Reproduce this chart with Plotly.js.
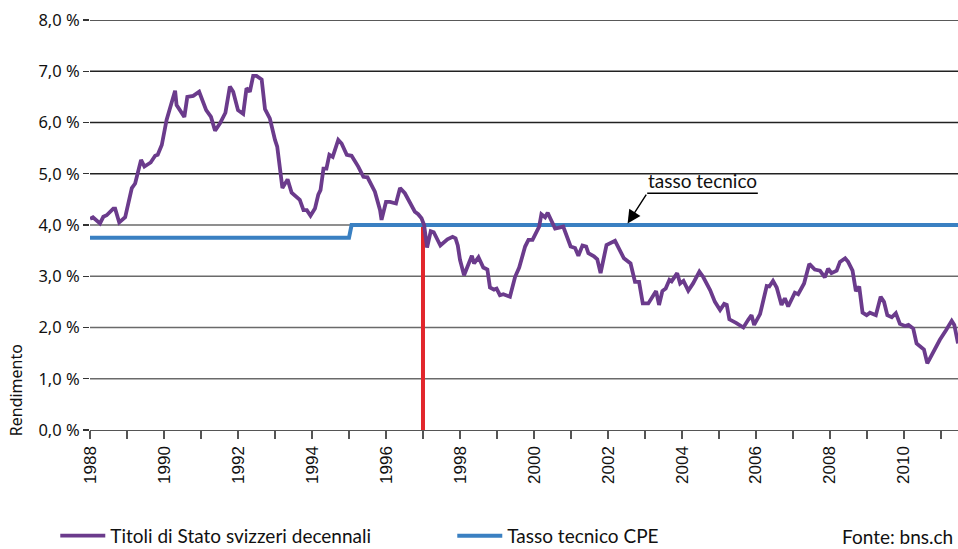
<!DOCTYPE html>
<html>
<head>
<meta charset="utf-8">
<script src="https://cdn.plot.ly/plotly-3.0.1.min.js"></script>
<style>html,body{margin:0;padding:0;background:#fff;}#chart{width:958px;height:549px;}</style>
</head>
<body>
<div id="chart"></div>
<script>
// Titoli di Stato svizzeri decennali (decimal year, yield %)
var bondDates = [1988.00,1988.08,1988.27,1988.36,1988.45,1988.63,1988.68,1988.79,1988.95,1989.13,1989.22,1989.38,1989.47,1989.64,1989.76,1989.83,1989.94,1990.07,1990.30,1990.34,1990.55,1990.63,1990.79,1990.95,1991.14,1991.27,1991.38,1991.51,1991.66,1991.78,1991.87,1992.00,1992.14,1992.23,1992.32,1992.41,1992.50,1992.64,1992.73,1992.86,1993.00,1993.06,1993.20,1993.34,1993.45,1993.67,1993.77,1993.86,1993.96,1994.08,1994.17,1994.23,1994.31,1994.39,1994.47,1994.56,1994.71,1994.80,1994.94,1995.07,1995.25,1995.39,1995.50,1995.70,1995.84,1995.88,1996.00,1996.11,1996.27,1996.38,1996.51,1996.65,1996.78,1996.87,1996.96,1997.03,1997.11,1997.21,1997.29,1997.47,1997.66,1997.80,1997.88,1997.94,1998.00,1998.11,1998.32,1998.38,1998.50,1998.63,1998.74,1998.81,1998.92,1998.99,1999.08,1999.17,1999.26,1999.35,1999.49,1999.60,1999.76,1999.85,1999.96,2000.14,2000.20,2000.30,2000.37,2000.57,2000.68,2000.79,2000.99,2001.11,2001.20,2001.31,2001.41,2001.47,2001.62,2001.71,2001.80,2001.96,2002.19,2002.32,2002.43,2002.61,2002.73,2002.84,2002.94,2003.09,2003.30,2003.38,2003.47,2003.56,2003.66,2003.72,2003.87,2003.95,2004.04,2004.17,2004.30,2004.47,2004.57,2004.76,2004.89,2005.03,2005.14,2005.21,2005.28,2005.46,2005.66,2005.79,2005.88,2005.95,2006.11,2006.29,2006.36,2006.46,2006.56,2006.69,2006.78,2006.87,2007.05,2007.14,2007.30,2007.44,2007.59,2007.73,2007.86,2007.95,2008.04,2008.18,2008.27,2008.41,2008.49,2008.61,2008.70,2008.79,2008.88,2008.99,2009.08,2009.24,2009.37,2009.46,2009.55,2009.67,2009.78,2009.89,2010.03,2010.12,2010.25,2010.34,2010.48,2010.54,2010.63,2010.79,2010.97,2011.14,2011.29,2011.36,2011.46];
var bondYields = [4.12,4.15,4.03,4.16,4.19,4.32,4.32,4.05,4.15,4.72,4.81,5.27,5.14,5.22,5.35,5.37,5.56,6.05,6.62,6.34,6.11,6.50,6.52,6.60,6.24,6.11,5.84,5.98,6.19,6.70,6.60,6.24,6.17,6.67,6.60,6.91,6.91,6.84,6.26,6.08,5.66,5.53,4.72,4.89,4.63,4.49,4.29,4.29,4.18,4.32,4.59,4.68,5.10,5.10,5.37,5.33,5.66,5.59,5.37,5.35,5.14,4.94,4.93,4.65,4.29,4.10,4.45,4.45,4.42,4.72,4.62,4.45,4.26,4.21,4.13,4.00,3.56,3.88,3.86,3.60,3.72,3.77,3.74,3.60,3.32,3.02,3.40,3.25,3.37,3.17,3.13,2.78,2.74,2.76,2.63,2.65,2.63,2.60,2.99,3.17,3.58,3.71,3.71,3.97,4.21,4.15,4.24,3.93,3.95,3.97,3.58,3.55,3.40,3.60,3.58,3.45,3.39,3.33,3.06,3.61,3.69,3.51,3.35,3.25,2.89,2.89,2.47,2.47,2.71,2.44,2.71,2.76,2.93,2.90,3.06,2.86,2.91,2.72,2.86,3.09,2.99,2.73,2.50,2.34,2.46,2.44,2.16,2.09,2.00,2.15,2.24,2.05,2.26,2.81,2.80,2.91,2.78,2.44,2.57,2.41,2.68,2.65,2.86,3.24,3.13,3.11,2.98,3.15,3.06,3.11,3.28,3.35,3.28,3.11,2.71,2.80,2.29,2.24,2.29,2.24,2.60,2.50,2.24,2.20,2.28,2.07,2.03,2.05,1.98,1.69,1.59,1.57,1.30,1.53,1.76,1.95,2.13,2.05,1.69];

// Tasso tecnico CPE
var rateDates = [1988.00, 1995.00, 1995.07, 2011.46];
var rateValues = [3.75, 3.75, 4.00, 4.00];

// Red marker line (1997)
var markDates = [1997.0, 1997.0];
var markValues = [0, 4.0];

// Axis ticks
var yTickVals = [0,1,2,3,4,5,6,7,8];
var yTickText = ['0,0 %','1,0 %','2,0 %','3,0 %','4,0 %','5,0 %','6,0 %','7,0 %','8,0 %'];
var xTickVals = [];
var xTickText = [];
for (var yr = 1988; yr <= 2011; yr++) { xTickVals.push(yr); xTickText.push(yr % 2 === 0 ? String(yr) : ''); }

var narrow = 'Lato, "Liberation Sans Narrow", sans-serif';

var shapes = [];
for (var i = 1; i < yTickVals.length; i++) {
  var v = yTickVals[i];
  shapes.push({type:'line', xref:'paper', x0:0, x1:1, yref:'y', y0:v, y1:v,
    line:{color: v >= 5 ? '#222222' : '#6a6a6a', width:1.3}, layer:'below'});
}
// underline of the "tasso tecnico" label
shapes.push({type:'line', xref:'x', yref:'y', x0:2003.06, x1:2006.05, y0:4.62, y1:4.62, line:{color:'#000', width:1.3}});

var traces = [
  {x: markDates, y: markValues, mode:'lines', line:{color:'#e2262c', width:4}, showlegend:false, hoverinfo:'skip'},
  {x: rateDates, y: rateValues, mode:'lines', name:'Tasso tecnico CPE', line:{color:'#3a80c2', width:4}, legendrank:2},
  {x: bondDates, y: bondYields, mode:'lines', name:'Titoli di Stato svizzeri decennali', line:{color:'#6b3b8c', width:3.8}, legendrank:1}
];

var layout = {
  width: 958, height: 549,
  margin: {l:90, r:0, t:20, b:119, autoexpand:false},
  paper_bgcolor:'#fff', plot_bgcolor:'#fff',
  showlegend: true,
  legend: {orientation:'h', x:-0.04, xanchor:'left', y:-0.258, yanchor:'middle', itemwidth:45,
    font:{family: narrow, size:19, color:'#111'}, entrywidth:337, entrywidthmode:'pixels',
    bgcolor:'rgba(0,0,0,0)', tracegroupgap:0},
  xaxis: {range:[1988, 2011.46], tickmode:'array', tickvals:xTickVals, ticktext:xTickText,
    tickangle:-90, ticks:'outside', ticklen:8, tickwidth:1.3, tickcolor:'#555',
    showline:true, linecolor:'#555', linewidth:1.3, showgrid:false, zeroline:false,
    tickfont:{family:'"Liberation Sans", Arial, sans-serif', size:17, color:'#111'}},
  yaxis: {range:[0, 8], tickmode:'array', tickvals:yTickVals, ticktext:yTickText,
    ticks:'outside', ticklen:6, tickwidth:1.3, tickcolor:'#333',
    showline:false, showgrid:false, zeroline:false,
    tickfont:{family:'"Noto Sans", "Open Sans", sans-serif', size:16.5, color:'#111'}},
  shapes: shapes,
  annotations: [
    {x:2002.53, y:4.03, xref:'x', yref:'y', ax:2003.06, ay:4.62, axref:'x', ayref:'y',
     text:'', showarrow:true, arrowhead:2, arrowsize:1.9, arrowwidth:1.4, arrowcolor:'#000', standoff:0, startstandoff:0},
    {x:2004.55, y:4.62, xref:'x', yref:'y', text:'tasso tecnico', showarrow:false, yanchor:'bottom', yshift:-1,
     font:{family: narrow, size:19, color:'#111'}},
    {x:-0.085, y:0.0, xref:'paper', yref:'paper', text:'Rendimento', showarrow:false, textangle:-90,
     xanchor:'center', yanchor:'bottom', yshift:-8,
     font:{family:'"Noto Sans", "Open Sans", sans-serif', size:16, color:'#111'}},
    {x:0.9965, y:-0.26, xref:'paper', yref:'paper', text:'Fonte: bns.ch', showarrow:false,
     xanchor:'right', yanchor:'middle', font:{family: narrow, size:19, color:'#111'}}
  ]
};

Plotly.newPlot('chart', traces, layout, {displayModeBar:false, staticPlot:true});
</script>
</body>
</html>
